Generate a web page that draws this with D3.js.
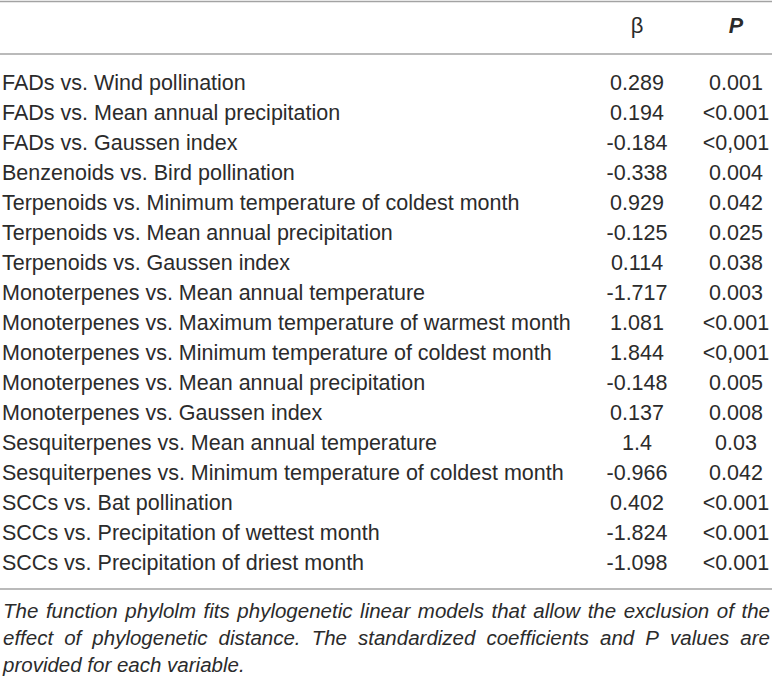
<!DOCTYPE html>
<html lang="en">
<head>
<meta charset="UTF-8">
<title>phylolm coefficients</title>
<script src="https://d3js.org/d3.v7.min.js"></script>
<style>
  html, body { margin: 0; padding: 0; background: #fff; }
  svg text { font-family: "Liberation Sans", Arial, sans-serif; fill: #2b2b2b; }
</style>
</head>
<body>
<svg id="table" width="772" height="679"></svg>
<script>
// table content
const headers = ["", "β", "P"];

const comparisons = [
  "FADs vs. Wind pollination",
  "FADs vs. Mean annual precipitation",
  "FADs vs. Gaussen index",
  "Benzenoids vs. Bird pollination",
  "Terpenoids vs. Minimum temperature of coldest month",
  "Terpenoids vs. Mean annual precipitation",
  "Terpenoids vs. Gaussen index",
  "Monoterpenes vs. Mean annual temperature",
  "Monoterpenes vs. Maximum temperature of warmest month",
  "Monoterpenes vs. Minimum temperature of coldest month",
  "Monoterpenes vs. Mean annual precipitation",
  "Monoterpenes vs. Gaussen index",
  "Sesquiterpenes vs. Mean annual temperature",
  "Sesquiterpenes vs. Minimum temperature of coldest month",
  "SCCs vs. Bat pollination",
  "SCCs vs. Precipitation of wettest month",
  "SCCs vs. Precipitation of driest month"
];

const betas = ["0.289", "0.194", "-0.184", "-0.338", "0.929", "-0.125", "0.114",
  "-1.717", "1.081", "1.844", "-0.148", "0.137", "1.4", "-0.966", "0.402",
  "-1.824", "-1.098"];

const pValues = ["0.001", "<0.001", "<0,001", "0.004", "0.042", "0.025", "0.038",
  "0.003", "<0.001", "<0,001", "0.005", "0.008", "0.03", "0.042", "<0.001",
  "<0.001", "<0.001"];

const footnote = "The function phylolm fits phylogenetic linear models that allow the exclusion of the effect of phylogenetic distance. The standardized coefficients and P values are provided for each variable.";

// layout
const W = 772;
const svg = d3.select("#table");

const y = d3.scalePoint()
  .domain(d3.range(comparisons.length))
  .range([90, 570]);

const x = d3.scaleOrdinal()
  .domain(["label", "beta", "p"])
  .range([2, 637, 736]);

// rules
const rules = [1.5, 54, 589];
svg.selectAll("line.rule")
  .data(rules)
  .enter().append("line")
  .attr("class", "rule")
  .attr("x1", 0).attr("x2", W)
  .attr("y1", d => d).attr("y2", d => d)
  .attr("stroke", "#a3a3a3")
  .attr("stroke-width", 1.5);

// header
svg.append("text")
  .attr("x", x("beta")).attr("y", 33)
  .attr("text-anchor", "middle")
  .style("font-size", "22px")
  .text(headers[1]);

svg.append("text")
  .attr("x", x("p")).attr("y", 33)
  .attr("text-anchor", "middle")
  .style("font-size", "21.5px")
  .style("font-weight", "bold")
  .style("font-style", "italic")
  .text(headers[2]);

// body rows
const rows = svg.selectAll("g.row")
  .data(comparisons.map((c, i) => ({ c, b: betas[i], p: pValues[i], i })))
  .enter().append("g")
  .attr("class", "row")
  .attr("transform", d => `translate(0,${y(d.i)})`)
  .style("font-size", "21.5px");

rows.append("text")
  .attr("x", x("label"))
  .text(d => d.c);

rows.append("text")
  .attr("x", x("beta"))
  .attr("text-anchor", "middle")
  .text(d => d.b);

rows.append("text")
  .attr("x", x("p"))
  .attr("text-anchor", "middle")
  .text(d => d.p);

// footnote, justified
const noteLeft = 3, noteRight = 770;
const noteBase = [618, 645, 672];
const words = footnote.split(" ");
const note = svg.append("g")
  .style("font-size", "20.5px")
  .style("font-style", "italic");

const probe = note.append("text");
function wordWidth(w) { probe.text(w); return probe.node().getComputedTextLength(); }
const spaceW = wordWidth("a a") - 2 * wordWidth("a");
const widths = words.map(wordWidth);
probe.remove();

// break into lines
const lines = [];
let cur = [], curW = 0;
words.forEach((w, i) => {
  const add = cur.length ? spaceW + widths[i] : widths[i];
  if (cur.length && curW + add > noteRight - noteLeft) {
    lines.push(cur); cur = [i]; curW = widths[i];
  } else { cur.push(i); curW += add; }
});
if (cur.length) lines.push(cur);

lines.forEach((line, li) => {
  const last = li === lines.length - 1;
  const total = d3.sum(line, i => widths[i]);
  const gap = last || line.length < 2 ? spaceW : (noteRight - noteLeft - total) / (line.length - 1);
  let xx = noteLeft;
  const t = note.append("text").attr("y", noteBase[li] || noteBase[0] + li * 27);
  line.forEach(i => {
    t.append("tspan").attr("x", xx).text(words[i]);
    xx += widths[i] + gap;
  });
});
</script>
</body>
</html>
